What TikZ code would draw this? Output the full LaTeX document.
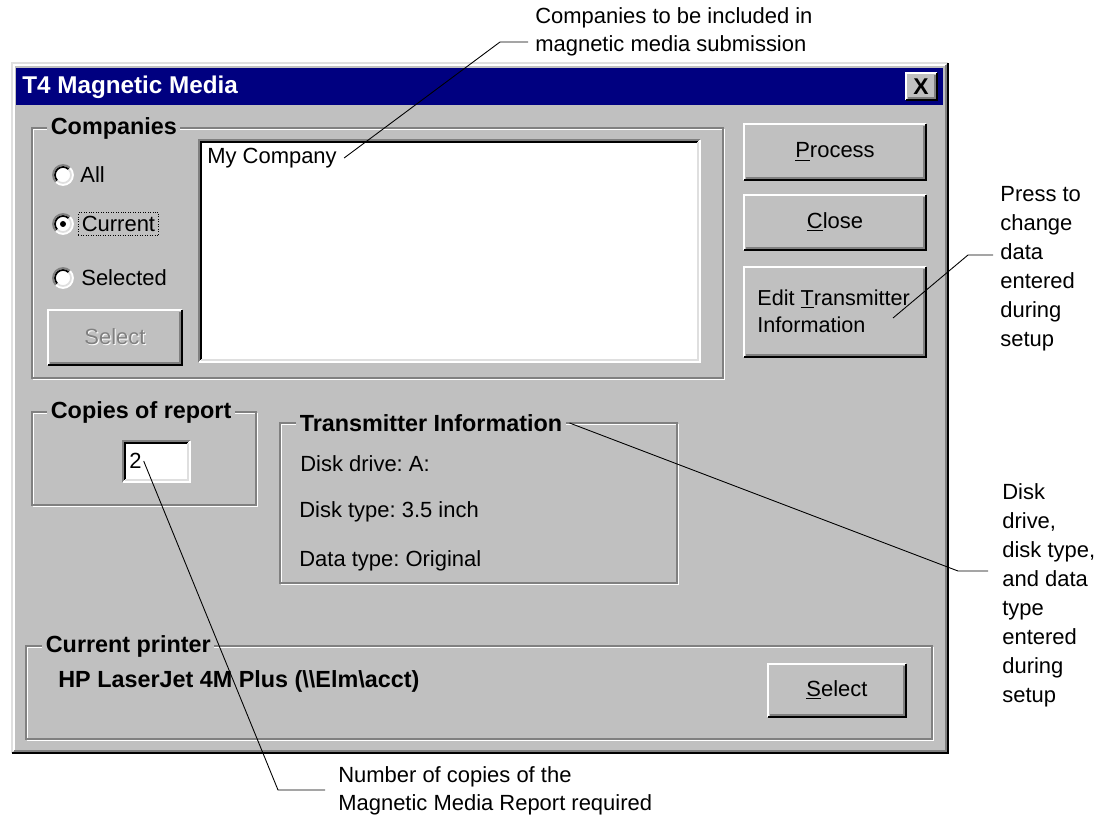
\documentclass[tikz,border=0pt]{standalone}
\usepackage{fontspec}
\setmainfont{Liberation Sans}
\usetikzlibrary{positioning}
\frenchspacing

\definecolor{wingray}{HTML}{C0C0C0}
\definecolor{winlite}{HTML}{DFDFDF}
\definecolor{winshadow}{HTML}{808080}
\definecolor{winnavy}{HTML}{000080}

% raised button frame: x1 y1 x2 y2 (pixel units)
\newcommand{\winraised}[4]{%
  \fill[wingray] (#1,#2) rectangle (#3,#4);
  \draw[white, line width=1pt] (#1,#4) -- (#1,#2) -- (#3,#2);
  \draw[winshadow, line width=1pt] (#1+2,#4-2) -- (#3-2,#4-2) -- (#3-2,#2+2);
  \draw[black, line width=1.2pt] (#1,#4) -- (#3,#4) -- (#3,#2);
}
% sunken field frame
\newcommand{\winsunken}[4]{%
  \fill[white] (#1,#2) rectangle (#3,#4);
  \draw[winshadow, line width=1pt] (#1,#4) -- (#1,#2) -- (#3,#2);
  \draw[black, line width=1pt] (#1+2,#4-2) -- (#1+2,#2+2) -- (#3-2,#2+2);
  \draw[winlite, line width=1pt] (#1+2,#4-2) -- (#3-2,#4-2) -- (#3-2,#2+2);
  \draw[white, line width=1pt] (#1,#4) -- (#3,#4) -- (#3,#2);
}
% etched group frame
\newcommand{\winetched}[4]{%
  \draw[white, line width=1pt] (#1+1.6,#2+1.6) rectangle (#3+1.6,#4+1.6);
  \draw[winshadow, line width=1pt] (#1,#2) rectangle (#3,#4);
}

\begin{document}
\begin{tikzpicture}[x=0.02cm, y=-0.02cm,
    dlgtext/.style={font=\fontsize{12.5}{15}\selectfont, inner sep=0pt, anchor=west},
    dlgbold/.style={font=\fontsize{13.3}{15}\selectfont\bfseries, inner sep=0pt, anchor=west},
    grouplbl/.style={dlgbold, fill=wingray, inner xsep=2pt, inner ysep=1pt},
    btntext/.style={font=\fontsize{12.5}{15}\selectfont, inner sep=0pt},
    note/.style={font=\fontsize{12.5}{16.5}\selectfont, inner sep=0pt, anchor=west, align=left},
    leader/.style={black, line width=0.5pt},
  ]
  \fill[white] (0,0) rectangle (1101,817);
  \useasboundingbox (0,0) rectangle (1101,817);

  % window
  \fill[wingray] (12,63) rectangle (948,753);
  \draw[winlite, line width=1pt] (12,753) -- (12,63) -- (948,63);
  \draw[white, line width=1pt] (14,751) -- (14,65) -- (946,65);
  \draw[winshadow, line width=1pt] (14,751) -- (946,751) -- (946,65);
  \draw[black, line width=1.4pt] (12,753) -- (948,753) -- (948,63);
  \fill[winnavy] (16,68) rectangle (943,105);
  \node[dlgbold, text=white, font=\fontsize{13.8}{15}\selectfont\bfseries] (title) at (22,87) {T4 Magnetic Media};
  \winraised{906}{73}{937}{100}
  \node[font=\fontsize{13}{15}\selectfont\bfseries, inner sep=0pt] (closex) at (921,87) {X};

  % companies group
  \winetched{32}{128}{723}{378}
  \node[grouplbl] (complbl) at (47,128) {Companies};
  \foreach \ry in {175,224,278} {
    \fill[white] (63,\ry) circle (0.2cm);
    \draw[winshadow, line width=1pt] (63,\ry) ++(45:0.2cm) arc (45:225:0.2cm);
    \draw[white, line width=1pt] (63,\ry) ++(225:0.2cm) arc (225:405:0.2cm);
    \draw[black, line width=1pt] (63,\ry) ++(45:0.16cm) arc (45:225:0.16cm);
    \draw[winlite, line width=1pt] (63,\ry) ++(225:0.16cm) arc (225:405:0.16cm);
  }
  \fill[black] (63,224) circle (0.06cm);
  \node[dlgtext] (optall) at (80,175) {All};
  \node[dlgtext, draw=black, densely dotted, inner sep=2pt] (optcur) at (78,224) {Current};
  \node[dlgtext] (optsel) at (81,278) {Selected};
  \winraised{48}{310}{182}{365}
  \node[btntext, text=white] (selshade) at (116,338) {Select};
  \node[btntext, text=winshadow] (seldim) at (115,337) {Select};
  \winsunken{199}{140}{700}{362}
  \node[dlgtext] (mycomp) at (207,158) {My Company};

  % command buttons
  \winraised{744}{124}{926}{180}
  \node[btntext] (process) at (835,152) {\underline{P}rocess};
  \winraised{744}{195}{926}{250}
  \node[btntext] (closebtn) at (835,222) {\underline{C}lose};
  \winraised{744}{267}{926}{357}
  \node[btntext, anchor=west, align=left, font=\fontsize{12.3}{15.3}\selectfont] (editbtn) at (757,311)
    {Edit \underline{T}ransmitter\\Information};

  % copies group
  \winetched{32}{412}{256}{505}
  \node[grouplbl] (copylbl) at (47,412) {Copies of report};
  \winsunken{123}{441}{190}{482}
  \node[dlgtext] (copyval) at (129,461) {2};

  % transmitter group
  \winetched{280}{423}{677}{583}
  \node[grouplbl] (translbl) at (296,423) {Transmitter Information};
  \node[dlgtext] (drive) at (300,464) {Disk drive: A:};
  \node[dlgtext] (disktype) at (299,512) {Disk type: 3.5 inch};
  \node[dlgtext] (datatype) at (299,561) {Data type: Original};

  % printer group
  \winetched{26}{646}{932}{739}
  \node[grouplbl] (prnlbl) at (42,646) {Current printer};
  \node[dlgbold] (prnname) at (58,681) {HP LaserJet 4M Plus (\textbackslash\textbackslash Elm\textbackslash acct)};
  \winraised{768}{664}{906}{717}
  \node[btntext] (prnsel) at (837,690) {\underline{S}elect};

  % notes
  \node[note, font=\fontsize{12.5}{16}\selectfont] (ann1) at (535,32) {Companies to be included in\\magnetic media submission};
  \node[note] (ann2) at (1000,269) {Press to\\change\\data\\entered\\during\\setup};
  \node[note] (ann3) at (1002,595) {Disk\\drive,\\disk type,\\and data\\type\\entered\\during\\setup};
  \node[note, font=\fontsize{12.5}{16}\selectfont] (ann4) at (338,791) {Number of copies of the\\Magnetic Media Report required};

  % leaders
  \coordinate (k1) at (500,42);
  \coordinate (e1) at (528,42);
  \coordinate (s2) at (893,318);
  \coordinate (k2) at (968,255);
  \coordinate (e2) at (993,255);
  \coordinate (k3) at (958,571);
  \coordinate (e3) at (988,571);
  \coordinate (k4) at (278,790);
  \coordinate (e4) at (325,790);
  \draw[leader] ([xshift=4pt]mycomp.east) -- (k1) -- (e1);
  \draw[leader] (s2) -- (k2) -- (e2);
  \draw[leader] ([xshift=2pt]translbl.east) -- (k3) -- (e3);
  \draw[leader] ([xshift=1pt]copyval.east) -- (k4) -- (e4);
\end{tikzpicture}
\end{document}
